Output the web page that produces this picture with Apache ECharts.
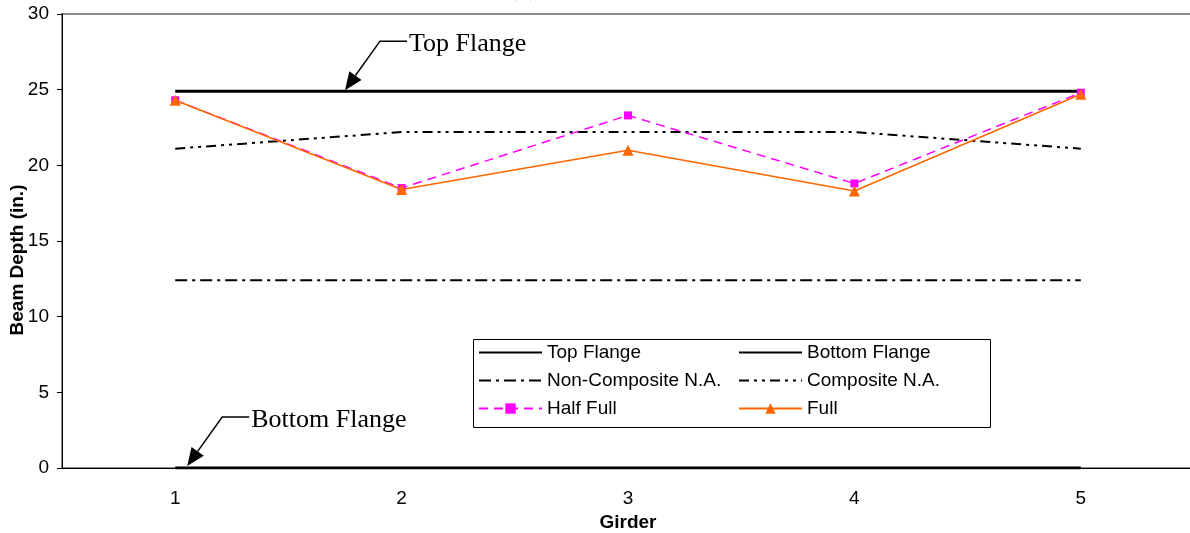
<!DOCTYPE html>
<html>
<head>
<meta charset="utf-8">
<script src="https://cdn.jsdelivr.net/npm/echarts@6/dist/echarts.min.js"></script>
<style>
html,body{margin:0;padding:0;background:#fff;}
#main{width:1190px;height:533px;}
</style>
</head>
<body>
<div id="main"></div>
<script>
var girders = ['1', '2', '3', '4', '5'];
var topFlange = [24.9, 24.9, 24.9, 24.9, 24.9];
var bottomFlange = [0, 0, 0, 0, 0];
var nonCompositeNA = [12.4, 12.4, 12.4, 12.4, 12.4];
var compositeNA = [21.1, 22.2, 22.2, 22.2, 21.1];
var halfFull = [24.3, 18.5, 23.3, 18.8, 24.8];
var full = [24.3, 18.4, 21.0, 18.3, 24.7];
var yTicks = [0, 5, 10, 15, 20, 25, 30];

var SANS = '"Liberation Sans", Arial, sans-serif';
var SERIF = '"Liberation Serif", "Times New Roman", serif';

var chart = echarts.init(document.getElementById('main'));

var legendText = { fontFamily: SANS, fontSize: 19, color: '#000', lineHeight: 19 };
var noSymbol = { opacity: 0 };

var option = {
  animation: false,
  backgroundColor: '#fff',
  grid: {
    left: 62, top: 14, width: 1132, height: 454,
    outerBoundsMode: 'none', containLabel: false,
    show: true, borderColor: '#8a8a8a', borderWidth: 2, backgroundColor: 'transparent'
  },
  legend: [
    {
      orient: 'vertical', left: 478, top: 343, padding: 0,
      itemWidth: 63, itemHeight: 13, itemGap: 9,
      textStyle: legendText,
      data: [{ name: 'Top Flange', itemStyle: noSymbol }, { name: 'Non-Composite N.A.', itemStyle: noSymbol }, 'Half Full']
    },
    {
      orient: 'vertical', left: 738, top: 343, padding: 0,
      itemWidth: 63, itemHeight: 13, itemGap: 9,
      textStyle: legendText,
      data: [{ name: 'Bottom Flange', itemStyle: noSymbol }, { name: 'Composite N.A.', itemStyle: noSymbol }, 'Full']
    }
  ],
  xAxis: {
    type: 'category',
    data: girders,
    boundaryGap: true,
    name: 'Girder',
    nameLocation: 'middle',
    nameGap: 41,
    nameTextStyle: { fontFamily: SANS, fontSize: 19, fontWeight: 'bold', color: '#000' },
    axisLine: { lineStyle: { color: '#000', width: 1 } },
    axisTick: { show: false },
    axisLabel: { fontFamily: SANS, fontSize: 19, color: '#000', margin: 21 },
    splitLine: { show: false }
  },
  yAxis: {
    type: 'value',
    min: yTicks[0],
    max: yTicks[yTicks.length - 1],
    interval: yTicks[1] - yTicks[0],
    axisLine: { show: true, lineStyle: { color: '#000', width: 1 } },
    axisTick: { show: true, length: 5, lineStyle: { color: '#000' } },
    axisLabel: { fontFamily: SANS, fontSize: 19, color: '#000', margin: 13 },
    splitLine: { show: false }
  },
  series: [
    {
      name: 'Top Flange', type: 'line', data: topFlange,
      symbol: 'none', lineStyle: { color: '#000', width: 3 }, itemStyle: { color: '#000' }, z: 3
    },
    {
      name: 'Bottom Flange', type: 'line', data: bottomFlange,
      symbol: 'none', lineStyle: { color: '#000', width: 3 }, itemStyle: { color: '#000' }, z: 3
    },
    {
      name: 'Non-Composite N.A.', type: 'line', data: nonCompositeNA,
      symbol: 'none', lineStyle: { color: '#000', width: 2, type: [12, 5, 3, 5] }, itemStyle: { color: '#000' }, z: 2
    },
    {
      name: 'Composite N.A.', type: 'line', data: compositeNA,
      symbol: 'none', lineStyle: { color: '#000', width: 2, type: [10, 5, 3, 5, 3, 5] }, itemStyle: { color: '#000' }, z: 2
    },
    {
      name: 'Half Full', type: 'line', data: halfFull,
      symbol: 'rect', symbolSize: 8, showAllSymbol: true,
      lineStyle: { color: '#FF00FF', width: 1.5, type: [9, 6] }, itemStyle: { color: '#FF00FF' }, z: 4
    },
    {
      name: 'Full', type: 'line', data: full,
      symbol: 'triangle', symbolSize: 11, showAllSymbol: true,
      lineStyle: { color: '#FF6600', width: 1.5 }, itemStyle: { color: '#FF6600' }, z: 5
    }
  ]
};
chart.setOption(option);

// Annotations (leader lines with arrowheads), anchored via the chart's scales
function annotation(tip, label) {
  var elbow = [tip[0] + 35, tip[1] - 49];
  var end = [elbow[0] + 27, elbow[1]];
  var dx = tip[0] - elbow[0], dy = tip[1] - elbow[1];
  var len = Math.sqrt(dx * dx + dy * dy);
  var ux = dx / len, uy = dy / len;
  var headLen = 18, headHalf = 7.5;
  var base = [tip[0] - ux * headLen, tip[1] - uy * headLen];
  var px = -uy, py = ux;
  return [
    {
      type: 'polyline', silent: true, z: 10,
      shape: { points: [end, elbow, base] },
      style: { stroke: '#000', lineWidth: 1.5, fill: null }
    },
    {
      type: 'polygon', silent: true, z: 10,
      shape: { points: [tip, [base[0] + px * headHalf, base[1] + py * headHalf], [base[0] - px * headHalf, base[1] - py * headHalf]] },
      style: { fill: '#000' }
    },
    {
      type: 'text', silent: true, z: 10,
      x: end[0] + 2, y: elbow[1] + 3,
      style: { text: label, font: '26px ' + SERIF, fill: '#000', align: 'left', verticalAlign: 'middle' }
    }
  ];
}

var c0 = chart.convertToPixel({ xAxisIndex: 0 }, girders[0]);
var c1 = chart.convertToPixel({ xAxisIndex: 0 }, girders[1]);
var step = c1 - c0;
var yTop = chart.convertToPixel({ yAxisIndex: 0 }, topFlange[0]);
var yBot = chart.convertToPixel({ yAxisIndex: 0 }, bottomFlange[0]);

var graphics = []
  .concat(annotation([c0 + 0.75 * step, yTop - 1], 'Top Flange'))
  .concat(annotation([c0 + 0.053 * step, yBot - 2], 'Bottom Flange'));

graphics.push({
  type: 'rect', silent: true, z: 1,
  shape: { x: 473.5, y: 339.5, width: 517, height: 88 },
  style: { fill: '#fff', stroke: '#000', lineWidth: 1 }
});
graphics.push({
  type: 'text', silent: true, z: 10,
  x: 18, y: 260, rotation: Math.PI / 2,
  style: { text: 'Beam Depth (in.)', font: 'bold 19px ' + SANS, fill: '#000', align: 'center', verticalAlign: 'middle' }
});
graphics.push({
  type: 'text', silent: true, z: 10,
  x: 509, y: -12,
  style: { text: '(a)', font: '26px ' + SERIF, fill: '#000', align: 'left', verticalAlign: 'middle' }
});

chart.setOption({ graphic: graphics });
</script>
</body>
</html>
